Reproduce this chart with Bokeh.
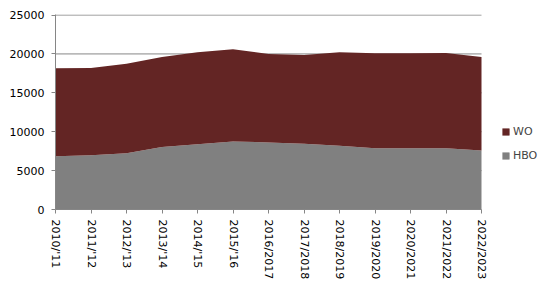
import math
from bokeh.plotting import figure
from bokeh.models import ColumnDataSource, Range1d, FixedTicker, Legend, LegendItem
from bokeh.embed import file_html
from bokeh.resources import INLINE

categories = ["2010/'11", "2011/'12", "2012/'13", "2013/'14", "2014/'15", "2015/'16",
              "2016/2017", "2017/2018", "2018/2019", "2019/2020", "2020/2021",
              "2021/2022", "2022/2023"]
hbo = [6850, 6980, 7240, 8020, 8400, 8750, 8620, 8450, 8200, 7890, 7890, 7890, 7590]
totals = [18150, 18180, 18750, 19610, 20220, 20610, 20000, 19870, 20220, 20090, 20090, 20130, 19610]
wo = [t - h for t, h in zip(totals, hbo)]
y_ticks = [0, 5000, 10000, 15000, 20000, 25000]

x = list(range(len(categories)))
last = len(categories) - 1
source = ColumnDataSource(data=dict(x=x, HBO=hbo, WO=wo))

FONT = "DejaVu Sans"
GRID = "#868686"

p = figure(width=551, height=285, output_backend="svg", toolbar_location=None,
           x_range=Range1d(0, last * 496 / 426), y_range=Range1d(0, 25070),
           min_border_left=55, min_border_right=0, min_border_top=14, min_border_bottom=76)
p.outline_line_color = None
p.background_fill_color = "white"
p.border_fill_color = "white"

p.xgrid.visible = False
p.ygrid.visible = False
p.segment(x0=[0] * len(y_ticks), x1=[last] * len(y_ticks), y0=y_ticks, y1=y_ticks,
          line_color=GRID, line_width=1, level="underlay")

rs = p.varea_stack(["HBO", "WO"], x="x", color=["#808080", "#632524"], source=source)

p.yaxis.ticker = FixedTicker(ticks=y_ticks)
p.xaxis.ticker = FixedTicker(ticks=x)
p.xaxis.bounds = (0, last)
p.xaxis.major_label_overrides = {i: c for i, c in enumerate(categories)}
p.xaxis.major_label_orientation = -math.pi / 2

for ax in (p.xaxis, p.yaxis):
    ax.axis_line_color = GRID
    ax.major_tick_line_color = GRID
    ax.major_tick_out = 4
    ax.major_tick_in = 0
    ax.minor_tick_line_color = None
    ax.major_label_text_font = FONT
    ax.major_label_text_font_size = "11px"
    ax.major_label_text_color = "#000000"
p.yaxis.major_label_standoff = 7
p.xaxis.major_label_standoff = 6

legend = Legend(items=[LegendItem(label="WO", renderers=[rs[1]]),
                       LegendItem(label="HBO", renderers=[rs[0]])],
                location=(446, 47), orientation="vertical")
legend.glyph_width = 9
legend.glyph_height = 9
legend.label_text_font = FONT
legend.label_text_font_size = "11px"
legend.label_standoff = 3
legend.spacing = 10
legend.padding = 0
legend.margin = 0
legend.border_line_color = None
legend.background_fill_alpha = 0
legend.label_height = 14
p.add_layout(legend, "center")

open("out.html", "w").write(file_html(p, INLINE))
